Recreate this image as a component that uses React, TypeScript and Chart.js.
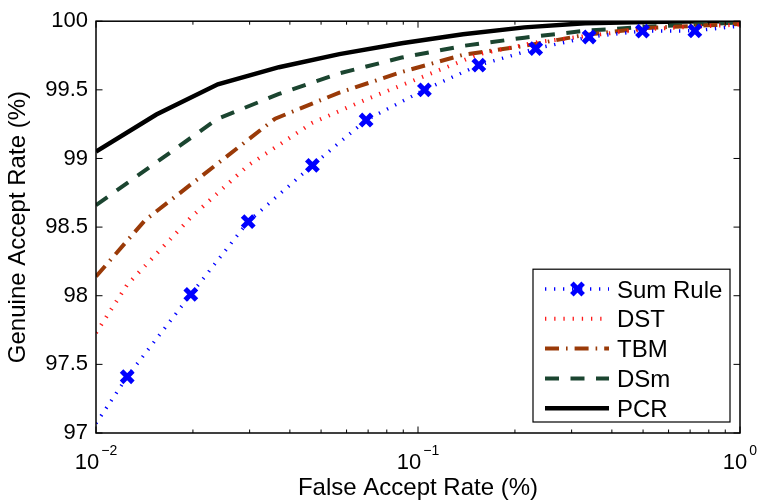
import React, { useEffect, useRef } from 'react';
import { Chart, registerables } from 'chart.js';

Chart.register(...registerables);

// ---- data ----
const sumRuleX = [0.01, 0.0125, 0.0197, 0.0297, 0.047, 0.069, 0.1047, 0.1545, 0.232, 0.34, 0.498, 0.724, 1.0];
const sumRuleY = [97.07, 97.41, 98.01, 98.54, 98.95, 99.28, 99.5, 99.68, 99.8, 99.885, 99.928, 99.93, 99.965];

const dstX = [0.01, 0.0125, 0.0197, 0.0297, 0.047, 0.069, 0.1047, 0.1545, 0.232, 0.34, 0.498, 0.724, 1.0];
const dstY = [97.73, 98.08, 98.57, 98.95, 99.26, 99.43, 99.6, 99.76, 99.845, 99.895, 99.94, 99.96, 99.975];

const tbmX = [0.01, 0.0142, 0.036, 0.057, 0.089, 0.138, 0.214, 0.33, 0.51, 0.79, 1.0];
const tbmY = [98.14, 98.55, 99.29, 99.48, 99.63, 99.755, 99.82, 99.9, 99.95, 99.97, 99.98];

const dsmX = [0.01, 0.0239, 0.037, 0.057, 0.089, 0.138, 0.214, 0.33, 0.51, 0.79, 1.0];
const dsmY = [98.66, 99.29, 99.47, 99.62, 99.735, 99.82, 99.88, 99.93, 99.96, 99.98, 99.99];

const pcrX = [0.01, 0.0154, 0.0239, 0.037, 0.057, 0.089, 0.138, 0.214, 0.33, 0.51, 0.79, 1.0];
const pcrY = [99.05, 99.32, 99.54, 99.665, 99.76, 99.84, 99.905, 99.955, 99.985, 99.995, 100, 100];

const seriesLabels = ['Sum Rule', 'DST', 'TBM', 'DSm', 'PCR'];

const xDecadeTicks = [0.01, 0.1, 1];
const xDecadeExponents = ['\u22122', '\u22121', '0'];
const yMin = 97;
const yMax = 100;
const yStep = 0.5;

const xTitle = 'False Accept Rate (%)';
const yTitle = 'Genuine Accept Rate (%)';

const FONT = "'Liberation Sans', Arial, Helvetica, sans-serif";

const pts = (xs: number[], ys: number[]) => xs.map((x, i) => ({ x, y: ys[i] }));

const framePlugin = {
  id: 'matlabFrame',
  afterDraw(chart: any) {
    const { ctx, chartArea: a, scales } = chart;
    const xs = scales.x;
    const ys = scales.y;
    ctx.save();
    // inward ticks
    ctx.strokeStyle = '#000';
    ctx.lineWidth = 1;
    ctx.setLineDash([]);
    ctx.beginPath();
    for (let d = 0; d < xDecadeTicks.length; d++) {
      const dec = xDecadeTicks[d];
      const px = xs.getPixelForValue(dec);
      ctx.moveTo(px, a.bottom);
      ctx.lineTo(px, a.bottom - 6.5);
      ctx.moveTo(px, a.top);
      ctx.lineTo(px, a.top + 6.5);
      if (d < xDecadeTicks.length - 1) {
        for (let k = 2; k <= 9; k++) {
          const mx = xs.getPixelForValue(dec * k);
          ctx.moveTo(mx, a.bottom);
          ctx.lineTo(mx, a.bottom - 3.5);
          ctx.moveTo(mx, a.top);
          ctx.lineTo(mx, a.top + 3.5);
        }
      }
    }
    ys.ticks.forEach((t: any) => {
      const py = ys.getPixelForValue(t.value);
      ctx.moveTo(a.left, py);
      ctx.lineTo(a.left + 6.5, py);
      ctx.moveTo(a.right, py);
      ctx.lineTo(a.right - 6.5, py);
    });
    ctx.stroke();
    ctx.lineWidth = 1.5;
    ctx.strokeRect(a.left, a.top, a.right - a.left, a.bottom - a.top);

    // x tick labels 10^n
    ctx.fillStyle = '#000';
    ctx.textBaseline = 'alphabetic';
    ctx.textAlign = 'left';
    xDecadeTicks.forEach((v, i) => {
      const px = xs.getPixelForValue(v);
      ctx.font = `22px ${FONT}`;
      const wb = ctx.measureText('10').width;
      ctx.font = `14px ${FONT}`;
      const we = ctx.measureText(xDecadeExponents[i]).width;
      const total = wb + 2 + we;
      const x0 = px - total / 2;
      ctx.font = `22px ${FONT}`;
      ctx.fillText('10', x0, a.bottom + 35.5);
      ctx.font = `14px ${FONT}`;
      ctx.fillText(xDecadeExponents[i], x0 + wb + 2, a.bottom + 21.5);
    });

    // legend
    const L = { left: a.right - 207, top: a.top + 248, right: a.right - 10, bottom: a.bottom - 11 };
    ctx.fillStyle = '#fff';
    ctx.fillRect(L.left, L.top, L.right - L.left, L.bottom - L.top);
    ctx.strokeStyle = '#000';
    ctx.lineWidth = 1.2;
    ctx.strokeRect(L.left, L.top, L.right - L.left, L.bottom - L.top);
    chart.data.datasets.forEach((ds: any, i: number) => {
      const base = L.top + 28.3 + i * 29.8;
      const ly = base - 8.5;
      ctx.save();
      ctx.strokeStyle = ds.borderColor;
      ctx.lineWidth = ds.borderWidth;
      ctx.setLineDash(ds.borderDash || []);
      ctx.lineCap = 'butt';
      ctx.beginPath();
      ctx.moveTo(L.left + 12, ly);
      ctx.lineTo(L.left + 76, ly);
      ctx.stroke();
      ctx.restore();
      if (ds.pointStyle === 'crossRot') {
        const cx = L.left + 44.5;
        const r = 8 * Math.SQRT1_2;
        ctx.save();
        ctx.strokeStyle = ds.pointBorderColor;
        ctx.lineWidth = ds.pointBorderWidth;
        ctx.setLineDash([]);
        ctx.beginPath();
        ctx.moveTo(cx - r, ly - r);
        ctx.lineTo(cx + r, ly + r);
        ctx.moveTo(cx + r, ly - r);
        ctx.lineTo(cx - r, ly + r);
        ctx.stroke();
        ctx.restore();
      }
      ctx.fillStyle = '#000';
      ctx.font = `24px ${FONT}`;
      ctx.textAlign = 'left';
      ctx.textBaseline = 'alphabetic';
      ctx.fillText(ds.label, L.left + 84, base);
    });
    ctx.restore();
  },
};

export default function App() {
  const ref = useRef<HTMLCanvasElement | null>(null);
  useEffect(() => {
    if (!ref.current) return;
    const lastSum = sumRuleX.length - 1;
    const chart = new Chart(ref.current, {
      type: 'line',
      data: {
        datasets: [
          {
            label: seriesLabels[0],
            data: pts(sumRuleX, sumRuleY),
            borderColor: '#0000ff',
            borderWidth: 3.5,
            borderDash: [1.3, 7.7],
            pointStyle: 'crossRot',
            pointRadius: (c: any) => (c.dataIndex === 0 || c.dataIndex === lastSum ? 0 : 8),
            pointBorderWidth: 5,
            pointBorderColor: '#0000ff',
            pointBackgroundColor: '#0000ff',
            tension: 0,
          },
          {
            label: seriesLabels[1],
            data: pts(dstX, dstY),
            borderColor: '#ff1a1a',
            borderWidth: 4,
            borderDash: [1.3, 7.9],
            pointRadius: 0,
            tension: 0,
          },
          {
            label: seriesLabels[2],
            data: pts(tbmX, tbmY),
            borderColor: '#9a3a08',
            borderWidth: 4,
            borderDash: [14, 7, 1.6, 7],
            pointRadius: 0,
            tension: 0,
          },
          {
            label: seriesLabels[3],
            data: pts(dsmX, dsmY),
            borderColor: '#1b4530',
            borderWidth: 4,
            borderDash: [14, 11.5],
            pointRadius: 0,
            tension: 0,
          },
          {
            label: seriesLabels[4],
            data: pts(pcrX, pcrY),
            borderColor: '#000000',
            borderWidth: 4.5,
            pointRadius: 0,
            tension: 0,
          },
        ],
      },
      options: {
        animation: false,
        responsive: true,
        maintainAspectRatio: false,
        devicePixelRatio: 1,
        layout: { padding: { top: 17, right: 18, left: 0, bottom: 0 } },
        plugins: {
          legend: { display: false },
          tooltip: { enabled: false },
        },
        scales: {
          x: {
            type: 'logarithmic',
            min: 0.01,
            max: 1,
            grid: { display: false, drawTicks: false },
            border: { display: false },
            ticks: { display: false },
            title: {
              display: true,
              text: xTitle,
              color: '#000',
              font: { family: FONT, size: 24 },
              padding: { top: 0, bottom: 0 },
            },
            afterFit: (s: any) => {
              s.height = 70;
            },
          },
          y: {
            type: 'linear',
            min: yMin,
            max: yMax,
            grid: { display: false, drawTicks: false },
            border: { display: false },
            ticks: {
              stepSize: yStep,
              color: '#000',
              padding: 8,
              font: { family: FONT, size: 22 },
              callback: (v: any) => String(v),
            },
            title: {
              display: true,
              text: yTitle,
              color: '#000',
              font: { family: FONT, size: 24 },
              padding: { top: 4, bottom: 0 },
            },
            afterFit: (s: any) => {
              s.width = 96;
            },
          },
        },
      },
      plugins: [framePlugin],
    } as any);
    return () => chart.destroy();
  }, []);
  return (
    <div style={{ position: 'fixed', left: 0, top: 0, width: 758, height: 503, background: '#fff' }}>
      <canvas ref={ref} />
    </div>
  );
}
